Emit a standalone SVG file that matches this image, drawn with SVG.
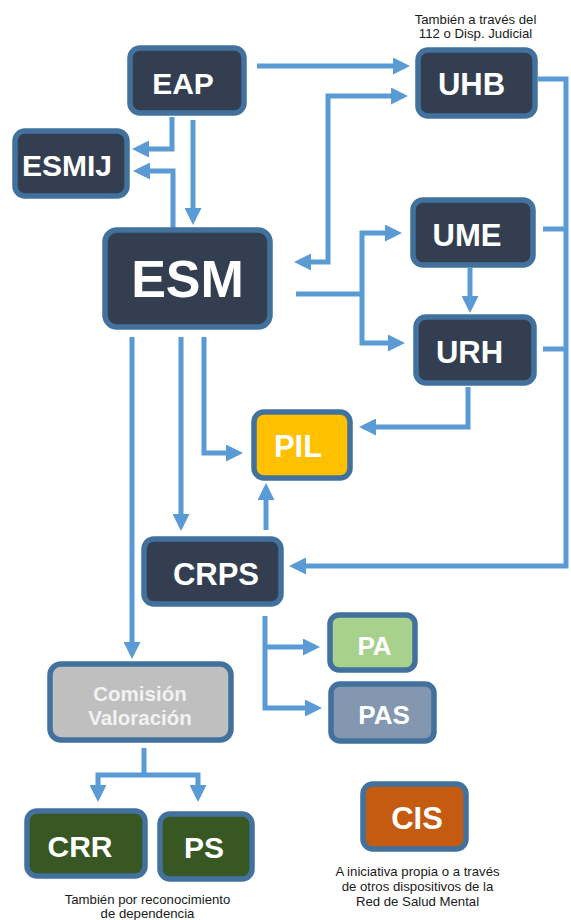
<svg xmlns="http://www.w3.org/2000/svg" width="571" height="920" viewBox="0 0 571 920">
<style>
.n{stroke:#41719C;stroke-width:5.5}
.d{fill:#333F50}
.t{font-family:"Liberation Sans",Arial,sans-serif;font-weight:bold;fill:#FFFFFF;text-anchor:middle}
.s{font-family:"Liberation Sans",Arial,sans-serif;font-size:13.2px;fill:#1a1a1a;text-anchor:middle}
.c{fill:none;stroke:#5B9BD5;stroke-width:5}
</style>
<defs>
<marker id="a" markerUnits="userSpaceOnUse" markerWidth="17" markerHeight="17" refX="12" refY="8.5" orient="auto-start-reverse">
<path d="M0,0 L17,8.5 L0,17 z" fill="#5B9BD5"/>
</marker>
</defs>
<rect width="571" height="920" fill="#FFFFFF"/>
<g id="connectors">
<path class="c" d="M257,66 H405" marker-end="url(#a)"/>
<path class="c" d="M299,262 H328 V96 H403" marker-start="url(#a)" marker-end="url(#a)"/>
<path class="c" d="M172,117 V149 H137" marker-end="url(#a)"/>
<path class="c" d="M173,228 V171 H138" marker-end="url(#a)"/>
<path class="c" d="M193,120 V220" marker-end="url(#a)"/>
<path class="c" d="M296,294 H362"/>
<path class="c" d="M362,294 V233 H397" marker-end="url(#a)"/>
<path class="c" d="M362,294 V343 H400" marker-end="url(#a)"/>
<path class="c" d="M470,268 V308" marker-end="url(#a)"/>
<path class="c" d="M538,79 H566 V566 H294" marker-end="url(#a)"/>
<path class="c" d="M543,229 H566"/>
<path class="c" d="M543,349 H566"/>
<path class="c" d="M468,387 V427 H364" marker-end="url(#a)"/>
<path class="c" d="M204,337 V453 H238" marker-end="url(#a)"/>
<path class="c" d="M181,337 V526" marker-end="url(#a)"/>
<path class="c" d="M132,337 V654" marker-end="url(#a)"/>
<path class="c" d="M266,530 V488" marker-end="url(#a)"/>
<path class="c" d="M265,616 V708 H317" marker-end="url(#a)"/>
<path class="c" d="M265,647 H315" marker-end="url(#a)"/>
<path class="c" d="M144,748 V775"/>
<path class="c" d="M144,775 H98 V797" marker-end="url(#a)"/>
<path class="c" d="M144,775 H198 V797" marker-end="url(#a)"/>
</g>
<g id="EAP"><rect class="n d" x="130" y="48" width="114" height="65" rx="10"/><text class="t" x="183" y="94" font-size="30">EAP</text></g>
<g id="ESMIJ"><rect class="n d" x="15" y="131" width="112" height="65" rx="10"/><text class="t" x="67" y="176" font-size="30">ESMIJ</text></g>
<g id="ESM"><rect class="n d" x="105" y="230" width="165" height="97" rx="12"/><text class="t" x="187.5" y="297" font-size="52">ESM</text></g>
<g id="UHB"><rect class="n d" x="418" y="50" width="117" height="66" rx="10"/><text class="t" x="471.5" y="95" font-size="31">UHB</text></g>
<g id="UME"><rect class="n d" x="413" y="200" width="120" height="65" rx="10"/><text class="t" x="467" y="246" font-size="31">UME</text></g>
<g id="URH"><rect class="n d" x="416" y="317" width="118" height="66" rx="10"/><text class="t" x="469.5" y="363" font-size="31">URH</text></g>
<g id="PIL"><rect class="n" fill="#FFC000" x="254" y="412" width="96" height="66" rx="10"/><text class="t" x="298" y="457" font-size="31">PIL</text></g>
<g id="CRPS"><rect class="n d" x="144" y="539" width="137" height="65" rx="10"/><text class="t" x="216" y="585" font-size="31">CRPS</text></g>
<g id="PA"><rect class="n" fill="#A9D18E" x="330" y="615" width="85" height="55" rx="9"/><text class="t" x="374.5" y="655" font-size="26">PA</text></g>
<g id="PAS"><rect class="n" fill="#8497B0" x="331" y="684" width="103" height="57" rx="9"/><text class="t" x="384" y="724" font-size="26">PAS</text></g>
<g id="ComisionValoracion"><rect class="n" fill="#BFBFBF" x="50" y="664" width="181" height="76" rx="11"/><text class="t" x="140" y="701" font-size="20.5" fill="#F2F2F2" style="fill:#F2F2F2">Comisión</text><text class="t" x="140" y="725" font-size="20.5" style="fill:#F2F2F2">Valoración</text></g>
<g id="CRR"><rect class="n" fill="#385723" x="27" y="811" width="118" height="65" rx="10"/><text class="t" x="80" y="857" font-size="30">CRR</text></g>
<g id="PS"><rect class="n" fill="#385723" x="160" y="814" width="92" height="65" rx="10"/><text class="t" x="204" y="858" font-size="30">PS</text></g>
<g id="CIS"><rect class="n" fill="#C55A11" x="363" y="784" width="103" height="65" rx="10"/><text class="t" x="417" y="829" font-size="31">CIS</text></g>
<g id="notes">
<text class="s" x="475.5" y="24">También a través del</text>
<text class="s" x="475.5" y="38">112 o Disp. Judicial</text>
<text class="s" x="417.5" y="876">A iniciativa propia o a través</text>
<text class="s" x="417.5" y="891">de otros dispositivos de la</text>
<text class="s" x="417.5" y="906">Red de Salud Mental</text>
<text class="s" x="147.5" y="904">También por reconocimiento</text>
<text class="s" x="147.5" y="918">de dependencia</text>
</g>
</svg>
